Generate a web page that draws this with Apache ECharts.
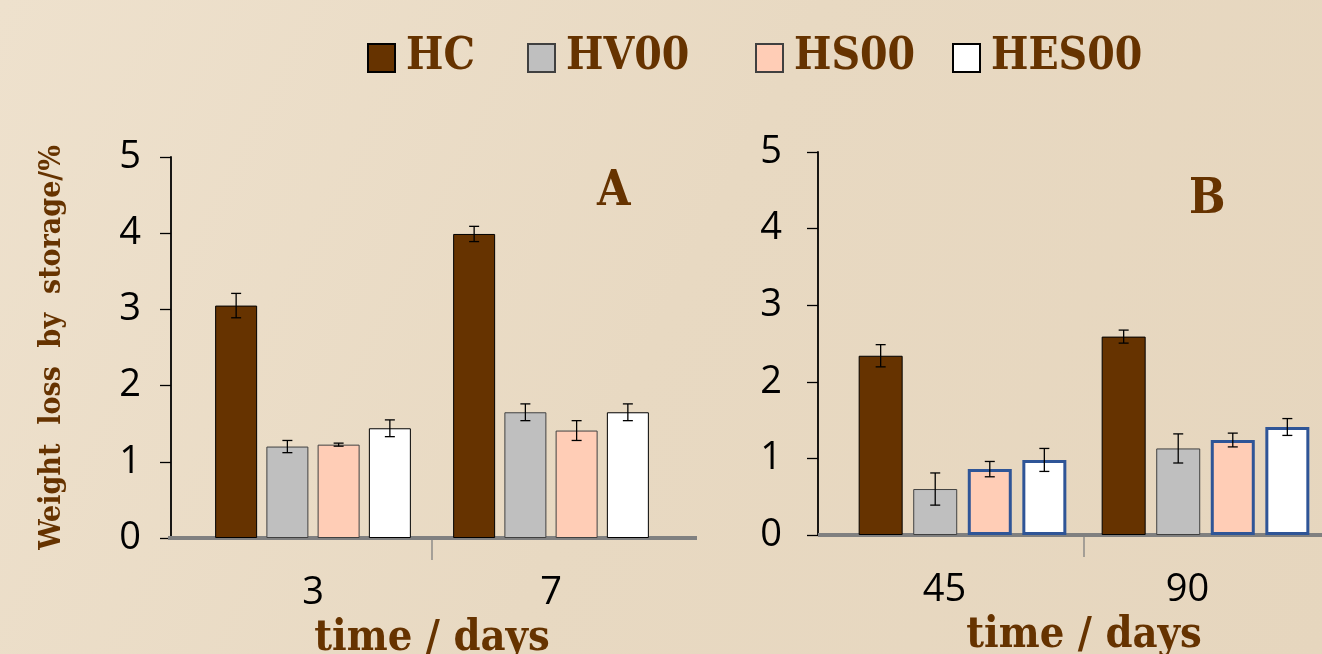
<!DOCTYPE html>
<html>
<head>
<meta charset="utf-8">
<script src="https://cdn.jsdelivr.net/npm/echarts@6/dist/echarts.min.js"></script>
<style>
html, body { margin: 0; padding: 0; }
#main { width: 1322px; height: 654px; }
</style>
</head>
<body>
<div id="main"></div>
<script>
var names = ['HC', 'HV00', 'HS00', 'HES00'];
var daysA = ['3', '7'];
var daysB = ['45', '90'];

// panel A: weight loss (%) after 3 and 7 days, with error
var hcA = [3.05, 3.99];     var hcAErr = [0.16, 0.10];
var hv00A = [1.20, 1.65];   var hv00AErr = [0.08, 0.11];
var hs00A = [1.225, 1.41];  var hs00AErr = [0.02, 0.13];
var hes00A = [1.44, 1.65];  var hes00AErr = [0.11, 0.11];

// panel B: weight loss (%) after 45 and 90 days, with error
var hcB = [2.34, 2.59];     var hcBErr = [0.145, 0.085];
var hv00B = [0.60, 1.13];   var hv00BErr = [0.21, 0.19];
var hs00B = [0.86, 1.24];   var hs00BErr = [0.10, 0.09];
var hes00B = [0.98, 1.41];  var hes00BErr = [0.15, 0.11];

var brown = '#663300';
var titleFont = 'DejaVu Serif Condensed';
var numFont = 'Open Sans';

function errorData(means, errs) {
    var out = [];
    for (var s = 0; s < means.length; s++) {
        for (var c = 0; c < means[s].length; c++) {
            out.push([c, s, means[s][c], errs[s][c]]);
        }
    }
    return out;
}

function errorRender(step) {
    return function (params, api) {
        var c = api.value(0), s = api.value(1), m = api.value(2), e = api.value(3);
        var hi = api.coord([c, m + e]);
        var lo = api.coord([c, m - e]);
        var x = hi[0] + (s - 1.5) * step;
        var cap = 5;
        var st = { stroke: '#000', lineWidth: 1.3 };
        return {
            type: 'group',
            children: [
                { type: 'line', shape: { x1: x, y1: hi[1], x2: x, y2: lo[1] }, style: st },
                { type: 'line', shape: { x1: x - cap, y1: hi[1], x2: x + cap, y2: hi[1] }, style: st },
                { type: 'line', shape: { x1: x - cap, y1: lo[1], x2: x + cap, y2: lo[1] }, style: st }
            ]
        };
    };
}

function barSeries(name, data, idx, fill, border, bw, width, gap) {
    return {
        name: name,
        type: 'bar',
        xAxisIndex: idx,
        yAxisIndex: idx,
        data: data,
        barWidth: width,
        barGap: gap,
        itemStyle: { color: fill, borderColor: border, borderWidth: bw },
        z: 3
    };
}

function yAxisOf(idx, offset, margin) {
    return {
        type: 'value',
        gridIndex: idx,
        min: 0, max: 5, interval: 1,
        offset: offset,
        axisLine: { show: true, lineStyle: { color: '#000', width: 1.8 } },
        axisTick: { show: true, length: 11, lineStyle: { color: '#000', width: 1.3 } },
        axisLabel: { color: '#000', fontFamily: numFont, fontSize: 38, margin: margin },
        splitLine: { show: false }
    };
}

function xAxisOf(idx, cats, padding) {
    return {
        type: 'category',
        gridIndex: idx,
        data: cats,
        axisLine: { show: true, lineStyle: { color: '#808080', width: 4 } },
        axisTick: { show: false },
        axisLabel: { color: '#000', fontFamily: numFont, fontSize: 38, margin: 36, padding: padding },
        name: 'time / days',
        nameLocation: 'middle',
        nameGap: 58,
        nameTextStyle: { color: brown, fontFamily: titleFont, fontWeight: 'bold', fontSize: 43 }
    };
}

function legendOf(name, left) {
    return {
        data: [name],
        left: left,
        top: 31,
        icon: 'rect',
        itemWidth: 27,
        itemHeight: 28,
        textStyle: {
            color: brown, fontFamily: titleFont, fontWeight: 'bold', fontSize: 44,
            padding: [0, 0, 0, 6]
        }
    };
}

var yA = yAxisOf(0, 23, 30);
yA.name = 'Weight  loss  by  storage/%';
yA.nameLocation = 'middle';
yA.nameRotate = 90;
yA.nameGap = 104;
yA.nameTextStyle = { color: brown, fontFamily: titleFont, fontWeight: 'bold', fontSize: 30 };

var option = {
    backgroundColor: {
        type: 'linear', x: 0, y: 0, x2: 1, y2: 1,
        colorStops: [
            { offset: 0, color: '#EEE1CD' },
            { offset: 0.5, color: '#E8D9C2' },
            { offset: 1, color: '#E6D6BE' }
        ]
    },
    animation: false,
    title: [
        { text: 'A', left: 592, top: 164, textStyle: { color: brown, fontFamily: titleFont, fontWeight: 'bold', fontSize: 48 } },
        { text: 'B', left: 1184, top: 172, textStyle: { color: brown, fontFamily: titleFont, fontWeight: 'bold', fontSize: 48 } }
    ],
    legend: [
        legendOf('HC', 362),
        legendOf('HV00', 522),
        legendOf('HS00', 750),
        legendOf('HES00', 947)
    ],
    grid: [
        { left: 194, top: 157, width: 476, height: 381, outerBoundsMode: 'none' },
        { left: 841, top: 152, width: 486, height: 383, outerBoundsMode: 'none' }
    ],
    xAxis: [
        xAxisOf(0, daysA, [0, 0, 0, 0]),
        xAxisOf(1, daysB, [0, 36, 0, 0])
    ],
    yAxis: [yA, yAxisOf(1, 23, 36)],
    graphic: [
        { type: 'rect', shape: { x: 168, y: 536, width: 529, height: 4 }, style: { fill: '#808080' }, z: 1 },
        { type: 'rect', shape: { x: 818, y: 533, width: 504, height: 4 }, style: { fill: '#808080' }, z: 1 }
    ],
    series: [
        barSeries('HC', hcA, 0, brown, '#000', 1, 42, '22%'),
        barSeries('HV00', hv00A, 0, '#BFBFBF', '#404040', 1, 42, '22%'),
        barSeries('HS00', hs00A, 0, '#FFCDB6', '#404040', 1, 42, '22%'),
        barSeries('HES00', hes00A, 0, '#FFFFFF', '#000', 1, 42, '22%'),
        {
            type: 'custom', xAxisIndex: 0, yAxisIndex: 0,
            renderItem: errorRender(42 * 1.22),
            encode: { x: 0, y: 2 },
            data: errorData([hcA, hv00A, hs00A, hes00A], [hcAErr, hv00AErr, hs00AErr, hes00AErr]),
            z: 5
        },
        barSeries('HC', hcB, 1, brown, '#000', 1, 44, '24%'),
        barSeries('HV00', hv00B, 1, '#BFBFBF', '#404040', 1, 44, '24%'),
        barSeries('HS00', hs00B, 1, '#FFCDB6', '#2F5597', 3, 44, '24%'),
        barSeries('HES00', hes00B, 1, '#FFFFFF', '#2F5597', 3, 44, '24%'),
        {
            type: 'custom', xAxisIndex: 1, yAxisIndex: 1,
            renderItem: errorRender(44 * 1.24),
            encode: { x: 0, y: 2 },
            data: errorData([hcB, hv00B, hs00B, hes00B], [hcBErr, hv00BErr, hs00BErr, hes00BErr]),
            z: 5
        }
    ]
};

var chart = echarts.init(document.getElementById('main'));
chart.setOption(option);

// divider tick between the two day groups, placed from the axis scale
var dividers = [];
[0, 1].forEach(function (i) {
    var p0 = chart.convertToPixel({ xAxisIndex: i, yAxisIndex: i }, [0, 0]);
    var p1 = chart.convertToPixel({ xAxisIndex: i, yAxisIndex: i }, [1, 0]);
    var x = (p0[0] + p1[0]) / 2;
    dividers.push({
        type: 'line', z: 1,
        shape: { x1: x, y1: p0[1], x2: x, y2: p0[1] + 22 },
        style: { stroke: '#808080', lineWidth: 1.3 }
    });
});
chart.setOption({ graphic: option.graphic.concat(dividers) });
</script>
</body>
</html>
